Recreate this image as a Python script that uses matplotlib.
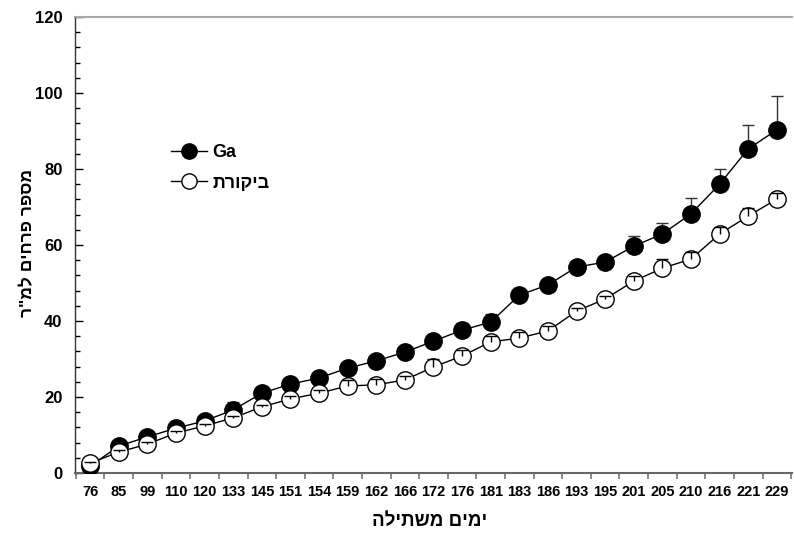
import matplotlib
matplotlib.use("Agg")
import matplotlib.pyplot as plt
from matplotlib.ticker import MultipleLocator
import numpy as np

plt.rcParams['font.family'] = ['Liberation Sans', 'DejaVu Sans']

days = ["76", "85", "99", "110", "120", "133", "145", "151", "154", "159", "162", "166", "172",
        "176", "181", "183", "186", "193", "195", "201", "205", "210", "216", "221", "229"]
ga = [1.8, 7.1, 9.5, 11.8, 13.7, 16.6, 21.0, 23.4, 25.0, 27.6, 29.5, 31.8, 34.7,
      37.6, 39.7, 46.8, 49.5, 54.2, 55.5, 59.7, 62.9, 68.2, 76.0, 85.3, 90.3]
ga_err = [0.5, 0.8, 0.8, 0.8, 0.8, 2.1, 0.8, 0.8, 0.8, 1.3, 1.3, 1.5, 1.6,
          2.0, 2.1, 0.8, 0.8, 0.8, 0.8, 2.7, 3.0, 4.1, 3.9, 6.3, 9.0]
control = [2.6, 5.5, 7.6, 10.5, 12.4, 14.5, 17.4, 19.5, 21.0, 22.9, 23.2, 24.5, 27.9,
           30.8, 34.5, 35.5, 37.4, 42.6, 45.8, 50.5, 53.9, 56.3, 62.9, 67.6, 72.1]
control_err = [0.4, 0.5, 0.5, 0.5, 0.5, 0.6, 0.6, 0.8, 0.8, 1.6, 1.6, 1.0, 2.0,
               1.7, 1.5, 1.5, 1.3, 0.8, 0.8, 1.3, 2.5, 1.8, 1.75, 2.2, 1.7]

label_ga = "Ga"
label_control = "ביקורת"
xlabel = "ימים משתילה"
ylabel = 'מספר פרחים למ"ר'


def vis(s):
    # visual (left-to-right) order for right-to-left Hebrew text
    return s[::-1]


def upper_errbar(ax, xv, yv, ev, color, z):
    yv = np.asarray(yv)
    top = yv + np.asarray(ev)
    ax.vlines(xv, yv, top, colors=color, lw=1.0, zorder=z)
    ax.plot(xv, top, ls='none', marker='_', markersize=8, markeredgewidth=1.0,
            color=color, zorder=z)


fig = plt.figure(figsize=(7.94, 5.35), dpi=100)
ax = fig.add_axes([75 / 794, 1 - 473 / 535, (792 - 75) / 794, (473 - 17) / 535])

x = np.arange(len(days))

# Ga: filled markers drawn over error bars
upper_errbar(ax, x, ga, ga_err, '#333333', 2)
ax.plot(x, ga, color='black', lw=1.0, marker='o', markersize=12.5,
        markerfacecolor='black', markeredgecolor='black', zorder=3, label=label_ga)

# Control: open markers, error bars drawn on top
ax.plot(x, control, color='black', lw=1.0, marker='o', markersize=12.5,
        markerfacecolor='white', markeredgecolor='black', markeredgewidth=1.0,
        zorder=3, label=vis(label_control))
upper_errbar(ax, x, control, control_err, 'black', 4)

ax.set_xlim(-0.53, len(days) - 0.47)
ax.set_ylim(0, 120)

ax.set_xticks(x)
ax.set_xticklabels(days, fontsize=10.5, fontweight='bold')
ax.set_xticks(np.arange(-0.5, len(days), 1.0), minor=True)
ax.tick_params(axis='x', which='major', length=0, pad=9)
ax.tick_params(axis='x', which='minor', direction='out', length=4, color='#777777', width=1.2)

ax.yaxis.set_major_locator(MultipleLocator(20))
ax.yaxis.set_minor_locator(MultipleLocator(4))
ax.tick_params(axis='y', which='major', direction='in', length=6, width=1.0, labelsize=12, pad=9)
ax.tick_params(axis='y', which='minor', direction='in', length=3.5, width=1.0)
for lab in ax.get_yticklabels():
    lab.set_fontweight('bold')

ax.spines['right'].set_visible(False)
ax.spines['top'].set_color('#a8a8a8')
ax.spines['top'].set_linewidth(1.5)
ax.spines['bottom'].set_color('#666666')
ax.spines['bottom'].set_linewidth(1.5)
ax.spines['left'].set_color('#333333')
ax.spines['left'].set_linewidth(1.0)

fig.text(430 / 794, 1 - 521 / 535, vis(xlabel), ha='center', va='center',
         fontsize=13.5, fontweight='bold')
fig.text(28 / 794, 1 - 243 / 535, vis(ylabel), ha='center', va='center',
         rotation=90, fontsize=12.5, fontweight='bold')

leg = ax.legend(loc='upper left', bbox_to_anchor=(162 / 794, 1 - 135 / 535),
                bbox_transform=fig.transFigure, frameon=False,
                prop={'weight': 'bold', 'size': 13}, handlelength=2.0,
                handletextpad=0.3, labelspacing=0.75, borderpad=0)
for h in leg.legend_handles:
    h.set_markersize(11)

fig.savefig("out.png", dpi=100)
